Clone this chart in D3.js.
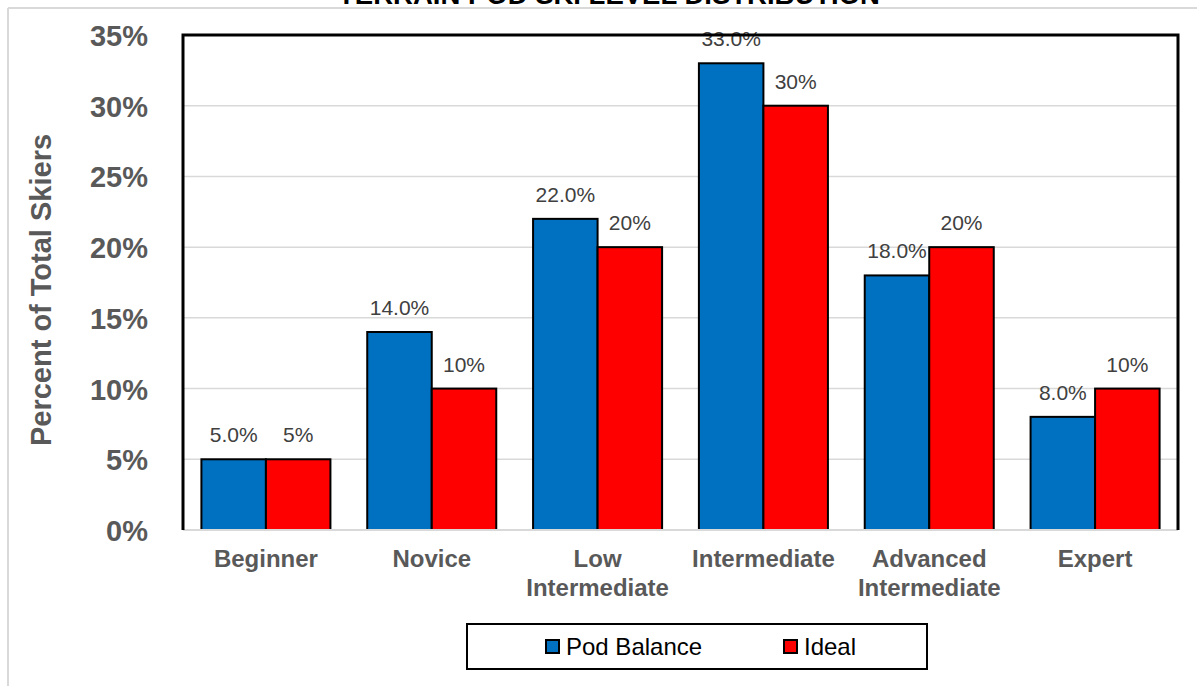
<!DOCTYPE html>
<html>
<head>
<meta charset="utf-8">
<script src="https://cdn.jsdelivr.net/npm/d3@7"></script>
<style>
  html, body { margin: 0; padding: 0; background: #fff; }
  svg { display: block; font-family: "Liberation Sans", Arial, sans-serif; }
</style>
</head>
<body>
<svg id="chart" width="1197" height="686"></svg>
<script>
// Skier distribution by ability level
const categories = [["Beginner"], ["Novice"], ["Low", "Intermediate"], ["Intermediate"], ["Advanced", "Intermediate"], ["Expert"]];
const podBalance = [5, 14, 22, 33, 18, 8];
const ideal = [5, 10, 20, 30, 20, 10];
const yTicks = [0, 5, 10, 15, 20, 25, 30, 35];
const seriesNames = ["Pod Balance", "Ideal"];
const seriesColors = ["#0070C0", "#FF0000"];

const svg = d3.select("#chart");
const W = 1197, H = 686;
const plot = { left: 183, right: 1178, top: 35, bottom: 530 };

// outer frame lines
svg.append("line").attr("x1", 8).attr("x2", W).attr("y1", 8).attr("y2", 8)
  .attr("stroke", "#d9d9d9").attr("stroke-width", 2);
svg.append("line").attr("x1", 8).attr("x2", 8).attr("y1", 8).attr("y2", H)
  .attr("stroke", "#d9d9d9").attr("stroke-width", 2);

// title
svg.append("text").attr("x", 609).attr("y", 4).attr("text-anchor", "middle")
  .attr("font-size", 27.5).attr("font-weight", "bold").attr("fill", "#000")
  .text("TERRAIN POD SKI LEVEL DISTRIBUTION");

const keys = categories.map(c => c.join(" "));
const x = d3.scaleBand().domain(keys).range([plot.left, plot.right])
  .paddingInner(0.222).paddingOuter(0.111);
const xs = d3.scaleBand().domain(seriesNames).range([0, x.bandwidth()]);
const y = d3.scaleLinear().domain([0, 35]).range([plot.bottom, plot.top]);

// gridlines
svg.append("g").selectAll("line").data(yTicks.filter(t => t > 0)).join("line")
  .attr("x1", plot.left).attr("x2", plot.right)
  .attr("y1", d => y(d)).attr("y2", d => y(d))
  .attr("stroke", "#d9d9d9").attr("stroke-width", 1.5);

// y axis tick labels
const yAxis = d3.axisLeft(y).tickValues(yTicks).tickFormat(d => d + "%").tickSize(0).tickPadding(0);
const gy = svg.append("g").attr("transform", `translate(148,0)`).call(yAxis);
gy.select(".domain").remove();
gy.selectAll("text").attr("font-size", 29).attr("font-weight", "bold")
  .attr("fill", "#595959").attr("font-family", "Liberation Sans, Arial, sans-serif")
  .attr("dy", "0.36em");

// y axis title
svg.append("text").attr("transform", "translate(51,290) rotate(-90)")
  .attr("text-anchor", "middle").attr("font-size", 29).attr("font-weight", "bold")
  .attr("fill", "#595959").text("Percent of Total Skiers");

// bars
const rows = keys.map((k, i) => ({ key: k, vals: [podBalance[i], ideal[i]] }));
const groups = svg.append("g").selectAll("g").data(rows).join("g")
  .attr("transform", d => `translate(${x(d.key)},0)`);

groups.selectAll("rect").data(d => d.vals.map((v, j) => ({ v, j }))).join("rect")
  .attr("x", d => xs(seriesNames[d.j]))
  .attr("y", d => y(d.v))
  .attr("width", xs.bandwidth())
  .attr("height", d => y(0) - y(d.v))
  .attr("fill", d => seriesColors[d.j])
  .attr("stroke", "#000").attr("stroke-width", 2);

// value labels
groups.selectAll("text").data(d => d.vals.map((v, j) => ({ v, j }))).join("text")
  .attr("x", d => xs(seriesNames[d.j]) + xs.bandwidth() / 2)
  .attr("y", d => y(d.v) - 17)
  .attr("text-anchor", "middle").attr("font-size", 21).attr("fill", "#404040")
  .text(d => d.j === 0 ? d.v.toFixed(1) + "%" : d.v + "%");

// x axis line
svg.append("line").attr("x1", plot.left).attr("x2", plot.right)
  .attr("y1", plot.bottom).attr("y2", plot.bottom)
  .attr("stroke", "#d9d9d9").attr("stroke-width", 2);

// x category labels
const xl = svg.append("g").selectAll("text").data(categories).join("text")
  .attr("x", (d, i) => x(keys[i]) + x.bandwidth() / 2)
  .attr("y", 567)
  .attr("text-anchor", "middle").attr("font-size", 24).attr("font-weight", "bold")
  .attr("fill", "#595959");
xl.selectAll("tspan").data(d => d).join("tspan")
  .attr("x", function () { return this.parentNode.getAttribute("x"); })
  .attr("dy", (d, i) => i === 0 ? 0 : 29)
  .text(d => d);

// plot frame: top, left, right in black
svg.append("path")
  .attr("d", `M${plot.left},${plot.bottom} V${plot.top} H${plot.right} V${plot.bottom}`)
  .attr("fill", "none").attr("stroke", "#000").attr("stroke-width", 3);

// legend
const lg = svg.append("g");
lg.append("rect").attr("x", 467).attr("y", 624).attr("width", 460).attr("height", 45)
  .attr("fill", "#fff").attr("stroke", "#000").attr("stroke-width", 2);
const legendX = [546, 784];
seriesNames.forEach((name, i) => {
  lg.append("rect").attr("x", legendX[i]).attr("y", 640).attr("width", 13).attr("height", 13)
    .attr("fill", seriesColors[i]).attr("stroke", "#000").attr("stroke-width", 2);
  lg.append("text").attr("x", legendX[i] + 20).attr("y", 655)
    .attr("font-size", 24).attr("fill", "#000").text(name);
});
</script>
</body>
</html>
